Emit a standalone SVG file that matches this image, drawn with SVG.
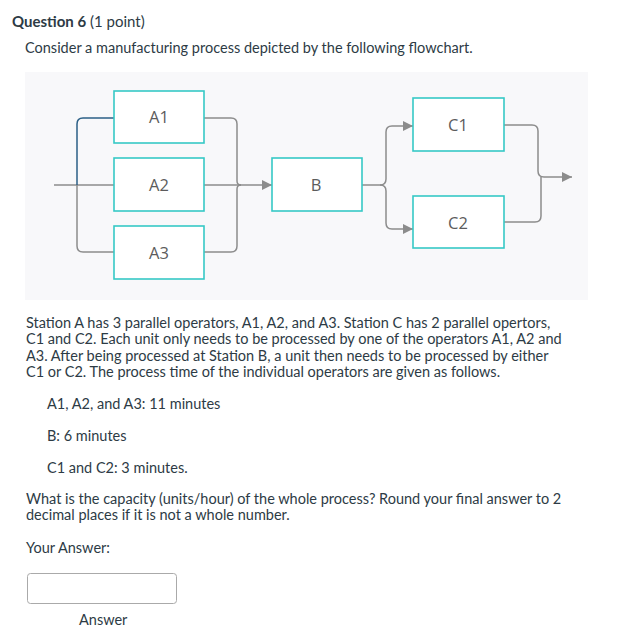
<svg xmlns="http://www.w3.org/2000/svg" width="629" height="640" viewBox="0 0 629 640">
<style>
.t{font-family:Lato,"Open Sans","Liberation Sans",sans-serif;font-size:14.5px;fill:#2d3b45}
.h{font-size:15px}
.b{font-weight:bold}
.box{fill:#fff;stroke:#36c9c6;stroke-width:1.6}
.lbl{font-family:"Open Sans","Liberation Sans",sans-serif;font-size:16.5px;fill:#5c5c5c;text-anchor:middle}
.c{fill:none;stroke:#8c8c8c;stroke-width:1.5}
.cd{fill:none;stroke:#2b5f86;stroke-width:1.5}
</style>
<defs>
<marker id="ah" viewBox="0 0 10 10" refX="10" refY="5" markerWidth="10" markerHeight="10" markerUnits="userSpaceOnUse" orient="auto">
<path d="M0,0 L10,5 L0,10 z" fill="#8c8c8c"/>
</marker>
</defs>
<rect width="629" height="640" fill="#fff"/>
<text class="t h" x="12" y="27"><tspan class="b">Question 6</tspan> (1 point)</text>
<text class="t" x="25" y="53">Consider a manufacturing process depicted by the following flowchart.</text>
<rect x="25" y="72" width="563" height="228" fill="#f8f8fa"/>
<g id="connectors">
<path class="c" d="M54,185 H114"/>
<path class="c" d="M77,185 V246 Q77,252 83,252 H114"/>
<path class="cd" d="M114,118 H83 Q77,118 77,124 V185"/>
<path class="c" d="M204,118 H231 Q237,118 237,124 V181 Q237,185 241,185"/>
<path class="c" d="M204,252 H231 Q237,252 237,246 V189 Q237,185 241,185"/>
<path class="c" d="M204,185 H272" marker-end="url(#ah)"/>
<path class="c" d="M362,185 H380 Q386,185 386,179 V132 Q386,126 392,126 H413" marker-end="url(#ah)"/>
<path class="c" d="M380,185 Q386,185 386,191 V223 Q386,229 392,229 H413" marker-end="url(#ah)"/>
<path class="c" d="M504,125 H532 Q538,125 538,131 V171 Q538,177 544,177 H572" marker-end="url(#ah)"/>
<path class="c" d="M504,222 H535 Q541,222 541,216 V177"/>
</g>
<g id="A1"><rect class="box" x="114" y="91" width="90" height="52"/><text class="lbl" x="159" y="123">A1</text></g>
<g id="A2"><rect class="box" x="114" y="158" width="90" height="53"/><text class="lbl" x="159" y="191">A2</text></g>
<g id="A3"><rect class="box" x="114" y="226" width="90" height="53"/><text class="lbl" x="159" y="259">A3</text></g>
<g id="B"><rect class="box" x="272" y="158" width="90" height="53"/><text class="lbl" x="316" y="191">B</text></g>
<g id="C1"><rect class="box" x="413" y="98" width="91" height="53"/><text class="lbl" x="458" y="131">C1</text></g>
<g id="C2"><rect class="box" x="413" y="196" width="91" height="52"/><text class="lbl" x="458" y="229">C2</text></g>
<text class="t" x="26" y="328">Station A has 3 parallel operators, A1, A2, and A3. Station C has 2 parallel opertors,</text>
<text class="t" x="26" y="344">C1 and C2. Each unit only needs to be processed by one of the operators A1, A2 and</text>
<text class="t" x="26" y="360.5">A3. After being processed at Station B, a unit then needs to be processed by either</text>
<text class="t" x="26" y="377">C1 or C2. The process time of the individual operators are given as follows.</text>
<text class="t" x="47" y="409">A1, A2, and A3: 11 minutes</text>
<text class="t" x="47" y="441">B: 6 minutes</text>
<text class="t" x="47" y="473">C1 and C2: 3 minutes.</text>
<text class="t" x="26" y="504">What is the capacity (units/hour) of the whole process? Round your final answer to 2</text>
<text class="t" x="26" y="520">decimal places if it is not a whole number.</text>
<text class="t" x="26" y="553">Your Answer:</text>
<rect x="27.5" y="573.5" width="149" height="30" rx="3" fill="#fff" stroke="#aaa"/>
<text class="t" x="79" y="625">Answer</text>
</svg>
